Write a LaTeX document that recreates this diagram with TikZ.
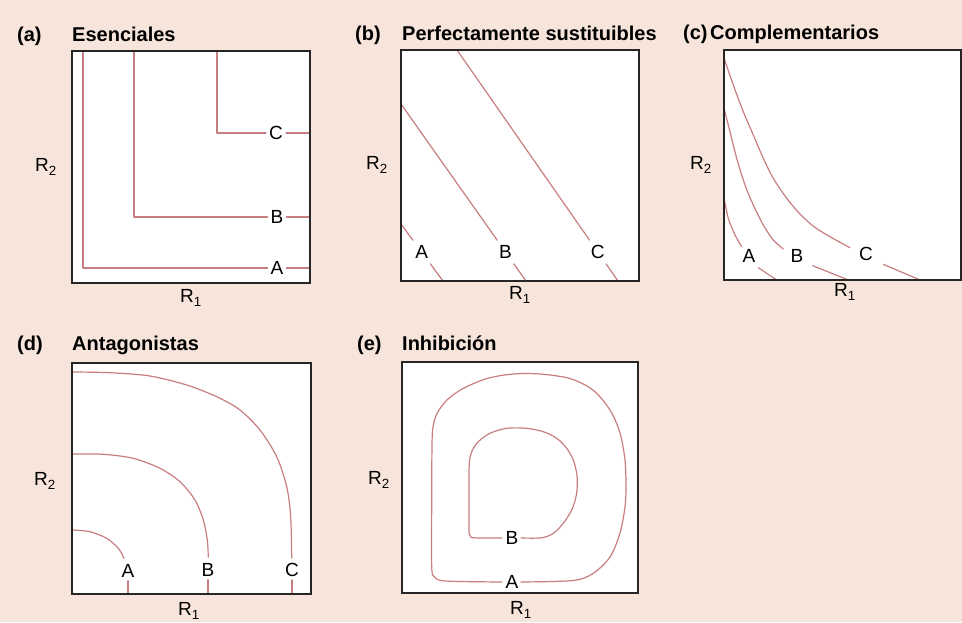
\documentclass[tikz,border=0pt]{standalone}
\usepackage{fontspec}
\setmainfont{Liberation Sans}
\definecolor{bgcol}{RGB}{247,229,219}
\definecolor{curvecol}{RGB}{200,126,128}
\tikzset{
  frame/.style={draw=black!85, line width=1.5pt},
  panelfill/.style={fill=white},
  curve/.style={draw=curvecol, line width=1.2pt, line cap=round, line join=round},
  ttl/.style={anchor=base west, font=\fontsize{20}{22}\selectfont\bfseries, inner sep=0pt},
  lbl/.style={font=\fontsize{19}{21}\selectfont, inner sep=3pt},
  slbl/.style={font=\fontsize{19}{21}\selectfont, inner sep=5pt},
  axl/.style={font=\fontsize{19}{21}\selectfont, inner sep=0pt},
}
\begin{document}
\begin{tikzpicture}[x=1pt,y=-1pt]
\fill[bgcol] (0,0) rectangle (962,622);
\useasboundingbox (0,0) rectangle (962,622);

% ---------- (a) Esenciales ----------
\fill[panelfill] (72,51) rectangle (310,283);
\node[ttl] (ta) at (17,41) {(a)};
\node[ttl] (tta) at (72,41) {Esenciales};
\node[axl] (aR2) at (46,167) {R\textsubscript{2}};
\node[axl] (aR1) at (191,298) {R\textsubscript{1}};
\node[lbl] (aA) at (277,268) {A};
\node[lbl] (aB) at (277,217) {B};
\node[lbl] (aC) at (276,133) {C};
\draw[curve] (83,51) -- (83,268) -- (aA);
\draw[curve] (aA) -- (310,268);
\draw[curve] (134,51) -- (134,217) -- (aB);
\draw[curve] (aB) -- (310,217);
\draw[curve] (217,51) -- (217,133) -- (aC);
\draw[curve] (aC) -- (310,133);
\draw[frame] (72,51) rectangle (310,283);

% ---------- (b) Perfectamente sustituibles ----------
\fill[panelfill] (401,50) rectangle (639,281);
\node[ttl] (tb) at (355,40) {(b)};
\node[ttl] (ttb) at (402,40) {Perfectamente sustituibles};
\node[axl] (bR2) at (377,165) {R\textsubscript{2}};
\node[axl] (bR1) at (520,295) {R\textsubscript{1}};
\node[slbl] (bA) at (421.6,252) {A};
\node[slbl] (bB) at (505.5,252) {B};
\node[slbl] (bC) at (597.8,252) {C};
\draw[curve] (401,224) -- (bA);
\draw[curve] (bA) -- (443,281);
\draw[curve] (401,104) -- (bB);
\draw[curve] (bB) -- (526,281);
\draw[curve] (457,50) -- (bC);
\draw[curve] (bC) -- (618,281);
\draw[frame] (401,50) rectangle (639,281);

% ---------- (c) Complementarios ----------
\fill[panelfill] (724,50) rectangle (961,280);
\node[ttl] (tc) at (683,39) {(c)};
\node[ttl] (ttc) at (710,39) {Complementarios};
\node[axl] (cR2) at (701,165) {R\textsubscript{2}};
\node[axl] (cR1) at (845,292) {R\textsubscript{1}};
\node[lbl] (cA) at (749,256) {A};
\node[lbl] (cB) at (797,256) {B};
\node[lbl] (cC) at (866,254) {C};
\draw[curve] plot[smooth] coordinates {(724,198) (728.3,218.3) (735,235) (741.7,246.7)};
\draw[curve] (758.3,267.7) -- (776.7,280);
\draw[curve] plot[smooth] coordinates {(724,108.3) (730,131.7) (736.7,158.3) (745,185) (753.3,205) (763.3,225) (773.3,240) (783.3,249)};
\draw[curve] (812.7,265.7) -- (848.3,280);
\draw[curve] plot[smooth] coordinates {(724,58) (733.3,85) (743.3,111.7) (753.3,135) (763.3,158.3) (773.3,178.3) (786.7,198.3) (800,214) (814,226.7) (830,236.7) (850,247.7)};
\draw[curve] (883.3,264.3) -- (920,280);
\draw[frame] (724,50) rectangle (961,280);

% ---------- (d) Antagonistas ----------
\fill[panelfill] (72,363) rectangle (311,594);
\node[ttl] (td) at (17,350) {(d)};
\node[ttl] (ttd) at (72,350) {Antagonistas};
\node[axl] (dR2) at (45,481) {R\textsubscript{2}};
\node[axl] (dR1) at (189,611) {R\textsubscript{1}};
\node[lbl] (dA) at (128,571) {A};
\node[lbl] (dB) at (208,570) {B};
\node[lbl] (dC) at (292,570) {C};
\draw[curve] plot[smooth] coordinates {(72,530) (90,531.7) (106.7,538.3) (118.3,548.3) (124,558.3)};
\draw[curve] (dA) -- (128,594);
\draw[curve] plot[smooth] coordinates {(72,454) (103.3,454.3) (133.3,458.3) (160,468.3) (180,481.7) (195,500) (203.3,520) (207.3,540) (208.3,557)};
\draw[curve] (dB) -- (208,594);
\draw[curve] plot[smooth] coordinates {(72,372) (110,372.7) (150,376) (186.7,385) (216.7,396.7) (240,410) (260,430) (276.7,456.7) (286.7,486.7) (290.7,516.7) (291.7,558)};
\draw[curve] (dC) -- (292,594);
\draw[frame] (72,363) rectangle (311,594);

% ---------- (e) Inhibicion ----------
\fill[panelfill] (402,362) rectangle (638,593);
\node[ttl] (te) at (357,350) {(e)};
\node[ttl] (tte) at (402,350) {Inhibición};
\node[axl] (eR2) at (379,480) {R\textsubscript{2}};
\node[axl] (eR1) at (521,610) {R\textsubscript{1}};
\node[lbl] (eA) at (512,582) {A};
\node[lbl] (eB) at (512,537.5) {B};
\draw[curve] plot[smooth] coordinates {(521,582) (573,580.5) (593,573.5) (610,557) (620,533) (625,507) (626,487) (625,460) (620,433) (610,410) (593,390) (570,378.5) (540,374) (513,374) (487,378.5) (463,388.5) (447,400) (437,413.5) (433,427) (432,445) (431.7,500) (431.7,566) (434,576.5) (441,580.5) (460,581.5) (502,582)};
\draw[curve] plot[smooth] coordinates {(521,538) (541.7,537.8) (553.3,533.3) (563.3,523.3) (571.7,510) (576,496.7) (577.3,485) (576.7,473.3) (573.3,460) (566.7,448.3) (556.7,438.3) (543.3,431.7) (526.7,428.3) (506.7,428.3) (490,433.3) (478.3,441.7) (471.7,451.7) (469.3,463.3) (469,490) (469,530) (470.5,536) (474,537.8) (502,538)};
\draw[frame] (402,362) rectangle (638,593);
\end{tikzpicture}
\end{document}
